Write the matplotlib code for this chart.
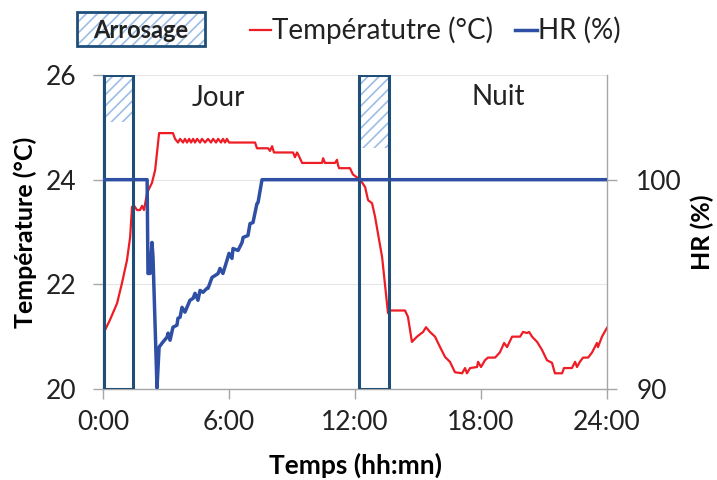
import numpy as np
import matplotlib.pyplot as plt
from matplotlib.patches import Rectangle
from matplotlib.lines import Line2D
import matplotlib as mpl

mpl.rcParams.update({
    "font.family": ["Lato", "DejaVu Sans"],
    "font.size": 18,
    "hatch.linewidth": 1.2,
})

# temperature (°C) vs time (h)
temp_h = [0.10, 0.33, 0.67, 0.90, 1.14, 1.29, 1.38, 1.48, 1.62, 1.76, 1.86, 1.95,
          2.10, 2.33, 2.48, 2.67, 3.33,
          3.43, 3.57, 3.67, 3.81, 3.90, 4.00, 4.10, 4.19, 4.29, 4.38, 4.48, 4.62,
          4.71, 4.86, 5.00, 5.14, 5.24, 5.38, 5.48, 5.62, 5.71, 5.81, 5.90, 6.00,
          7.24, 7.33, 7.86, 7.95, 8.05, 8.14, 9.05, 9.14, 9.24, 9.33, 9.48,
          10.43, 10.48, 10.57, 11.05, 11.14, 11.19, 11.24, 11.76, 11.90, 12.14,
          12.33, 12.48, 12.62, 12.81, 12.95, 13.29, 13.57, 13.67, 14.38, 14.52,
          14.71, 14.95, 15.24, 15.38, 15.57, 15.81, 16.05, 16.29, 16.52, 16.76,
          17.10, 17.24, 17.33, 17.48, 17.81, 17.86, 18.00, 18.19, 18.33, 18.67,
          18.90, 19.10, 19.24, 19.48, 19.86, 20.00, 20.19, 20.29, 20.43, 20.67,
          20.90, 21.14, 21.38, 21.52, 21.86, 21.95, 22.33, 22.48, 22.57, 22.71,
          22.86, 23.10, 23.29, 23.52, 23.57, 23.76, 23.90, 24.00]
temp_c = [21.13, 21.32, 21.64, 22.02, 22.46, 22.90, 23.48, 23.50, 23.42, 23.42, 23.50, 23.42,
          23.75, 23.94, 24.18, 24.89, 24.89,
          24.78, 24.71, 24.78, 24.71, 24.78, 24.71, 24.78, 24.71, 24.78, 24.71, 24.78, 24.71,
          24.78, 24.71, 24.78, 24.71, 24.78, 24.71, 24.78, 24.71, 24.78, 24.71, 24.78, 24.71,
          24.71, 24.60, 24.60, 24.55, 24.64, 24.52, 24.52, 24.43, 24.52, 24.45, 24.32,
          24.32, 24.41, 24.32, 24.32, 24.38, 24.28, 24.22, 24.22, 24.10, 24.03,
          23.95, 23.86, 23.61, 23.55, 23.30, 22.52, 21.45, 21.50, 21.50, 21.38,
          20.90, 21.00, 21.09, 21.18, 21.09, 21.00, 20.80, 20.61, 20.52, 20.32,
          20.30, 20.40, 20.30, 20.40, 20.42, 20.52, 20.42, 20.55, 20.60, 20.60,
          20.70, 20.88, 20.80, 21.00, 21.00, 21.09, 21.07, 21.09, 21.00, 20.90,
          20.75, 20.55, 20.50, 20.30, 20.30, 20.40, 20.40, 20.52, 20.42, 20.52,
          20.60, 20.60, 20.70, 20.88, 20.80, 21.00, 21.10, 21.17]

# relative humidity (%) vs time (h)
hr_h = [0.00, 2.10, 2.14, 2.24, 2.33, 2.38, 2.57, 2.67, 2.81, 3.05, 3.10, 3.19,
        3.33, 3.52, 3.57, 3.67, 3.76, 3.90, 4.14, 4.29, 4.38, 4.52, 4.62, 4.76,
        4.95, 5.00, 5.19, 5.43, 5.48, 5.57, 5.71, 5.90, 6.00, 6.14, 6.19, 6.43,
        6.62, 6.67, 6.90, 7.00, 7.14, 7.33, 7.38, 7.57, 24.00]
hr_pct = [100.0, 100.0, 95.52, 95.52, 97.0, 96.29, 90.05, 92.0, 92.19, 92.48, 92.67, 92.33,
          92.95, 93.05, 93.38, 93.43, 93.90, 93.67, 94.24, 94.33, 94.57, 94.24, 94.71, 94.62,
          94.81, 94.81, 95.33, 95.48, 95.52, 95.76, 95.52, 96.14, 96.48, 96.24, 96.71, 96.62,
          97.0, 97.24, 97.33, 97.90, 97.95, 98.86, 98.90, 100.0, 100.0]

# watering periods (start, end in h) and lower limit of the hatched part (°C)
arro_start = [0.05, 12.19]
arro_end = [1.43, 13.60]
arro_hatch_low = [25.1, 24.6]

x_ticks = [0, 6, 12, 18, 24]
x_labels = ["0:00", "6:00", "12:00", "18:00", "24:00"]

grey = "#A6A6A6"
dark_blue = "#1F4E79"
hatch_blue = "#9DBDE6"

fig = plt.figure(figsize=(7.17, 4.8), dpi=100)
ax = fig.add_axes([0.1437, 0.1896, 0.7029, 0.6541])
ax2 = ax.twinx()

for s, e, lo in zip(arro_start, arro_end, arro_hatch_low):
    ax.add_patch(Rectangle((s, lo), e - s, 26 - lo, facecolor="none",
                           edgecolor=hatch_blue, hatch="///", linewidth=0, zorder=2))
    ax.add_patch(Rectangle((s, 20), e - s, 6, facecolor="none",
                           edgecolor=dark_blue, linewidth=2.2, zorder=4))

ax.plot(temp_h, temp_c, color="#EE1C25", linewidth=1.6, zorder=3)
ax2.plot(hr_h, hr_pct, color="#2E4FA3", linewidth=2.5, zorder=3)

ax.set_xlim(0, 24)
ax.set_ylim(20, 26)
ax.set_yticks([20, 22, 24, 26])
ax2.set_ylim(90, 105)
ax2.set_yticks([90, 100])
ax.set_xticks(x_ticks)
ax.set_xticklabels(x_labels)

ax.grid(axis="y", color="#E6E6E6", linewidth=0.8, zorder=0)
ax.set_axisbelow(True)

for a in (ax, ax2):
    for sp in a.spines.values():
        sp.set_visible(False)
    a.tick_params(colors=grey, labelcolor="#222222", labelsize=19, length=7, width=1)
ax.tick_params(axis="y", pad=12)
ax.tick_params(axis="x", pad=8)
ax2.tick_params(axis="y", pad=14)
ax.spines["left"].set_visible(True)
ax.spines["bottom"].set_visible(True)
ax2.spines["right"].set_visible(True)
for sp in (ax.spines["left"], ax.spines["bottom"], ax2.spines["right"]):
    sp.set_color(grey)
    sp.set_linewidth(1)

ax.set_xlabel("Temps (hh:mn)", fontsize=19, fontweight="bold")
ax.set_ylabel("Température (°C)", fontsize=18, fontweight="bold")
ax2.set_ylabel("HR (%)", fontsize=18, fontweight="bold")
for lab in (ax.xaxis.label, ax.yaxis.label, ax2.yaxis.label):
    lab.set_ha("center")
    lab.set_va("center")
ax.xaxis.set_label_coords(0.5, -0.242)
ax.yaxis.set_label_coords(-0.155, 0.5)
ax2.yaxis.set_label_coords(1.19, 0.5)

ax.text(5.48, 25.56, "Jour", fontsize=20, color="#222222", ha="center", va="center")
ax.text(18.8, 25.58, "Nuit", fontsize=20, color="#222222", ha="center", va="center")

# legend
fig.patches.append(Rectangle((0.1074, 0.904), 0.1785, 0.071, transform=fig.transFigure,
                             facecolor="white", edgecolor=hatch_blue, hatch="///",
                             linewidth=0))
fig.patches.append(Rectangle((0.1074, 0.904), 0.1785, 0.071, transform=fig.transFigure,
                             facecolor="none", edgecolor=dark_blue, linewidth=2))
fig.text(0.1967, 0.937, "Arrosage", fontsize=17, fontweight="bold", color="#222222",
         ha="center", va="center")
fig.lines.append(Line2D([0.3487, 0.378], [0.937, 0.937], transform=fig.transFigure,
                        color="#EE1C25", linewidth=1.6))
fig.text(0.380, 0.937, "Températutre (°C)", fontsize=20, color="#222222",
         ha="left", va="center")
fig.lines.append(Line2D([0.718, 0.749], [0.937, 0.937], transform=fig.transFigure,
                        color="#2E4FA3", linewidth=2.5))
fig.text(0.750, 0.937, "HR (%)", fontsize=20, color="#222222", ha="left", va="center")

fig.savefig("out.png", dpi=100)
